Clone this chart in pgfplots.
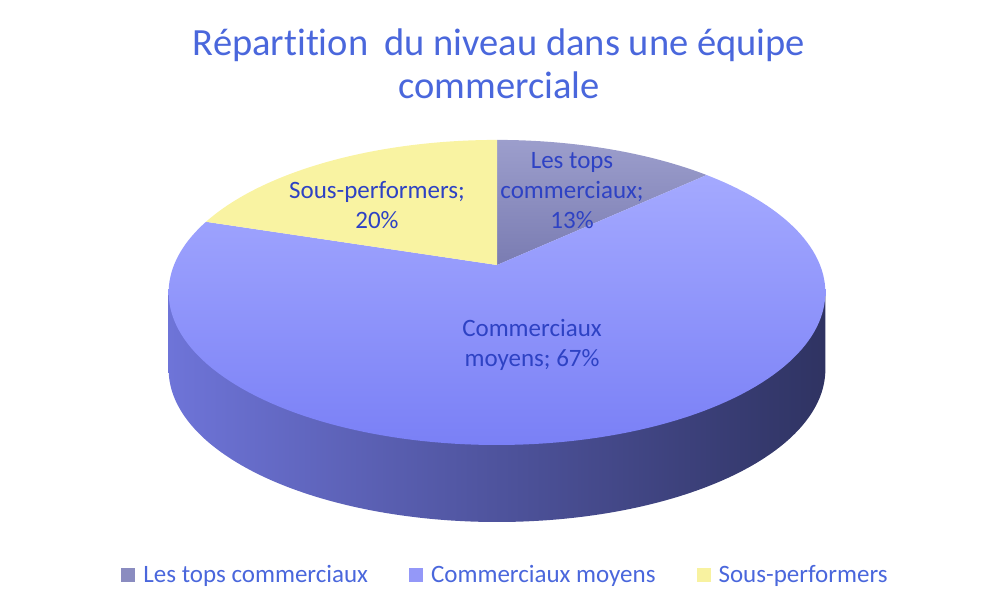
\documentclass[border=0pt]{standalone}
\usepackage{fontspec}
\setmainfont{Carlito}[Ligatures=NoCommon]
\usepackage{pgfplots}
\usepackage{pgfplotstable}
\pgfplotsset{compat=1.18}
\definecolor{titlec}{HTML}{4A67DC}
\definecolor{lblc}{HTML}{2E42C4}
\definecolor{topsT}{HTML}{9C9ECC}
\definecolor{topsB}{HTML}{7A7CB2}
\definecolor{moyT}{HTML}{A4A9FF}
\definecolor{moyB}{HTML}{7A80F6}
\definecolor{sousc}{HTML}{F9F3A2}
\definecolor{sideL}{HTML}{6E74D8}
\definecolor{sideR}{HTML}{2F3362}
\definecolor{legA}{HTML}{8A8CC0}
\definecolor{legB}{HTML}{9498F8}
\definecolor{legC}{HTML}{F8F2A0}
\pgfplotstableread{
label share
tops 13
moyens 67
sous 20
}\piedata
\begin{document}%
\pgfplotstablegetelem{0}{share}\of\piedata\let\vA\pgfplotsretval%
\pgfplotstablegetelem{1}{share}\of\piedata\let\vB\pgfplotsretval%
\pgfmathsetmacro\aA{3.6*\vA}%
\pgfmathsetmacro\aB{3.6*(\vA+\vB)}%
\begin{tikzpicture}
\begin{axis}[
  width=995pt, height=610pt, scale only axis,
  xmin=0, xmax=995, ymin=0, ymax=610, y dir=reverse,
  hide axis, clip=false,
  declare function={
    px(\t)=497+323*sin(\t)/(1+0.18*cos(\t));
    py(\t)=265-147.6*cos(\t)/(1+0.18*cos(\t));
  },
  samples=150,
  legend columns=3,
  legend image code/.code={\fill[#1] (0pt,-7pt) rectangle (14pt,7pt);},
  legend style={at={(axis cs:506,575)}, anchor=center, draw=none, fill=none,
    font=\fontsize{25}{30}\selectfont, text=titlec,
    nodes={inner sep=3pt},
    /tikz/every odd column/.append style={column sep=5pt},
    /tikz/every even column/.append style={column sep=38pt}},
]
\path (rel axis cs:0,0) rectangle (rel axis cs:1,1);
% side of the pie (front of the middle slice)
\addplot[draw=none, left color=sideL, right color=sideR, domain=100.37:259.63, variable=\t, forget plot]
  ({px(\t)},{py(\t)+77}) -- (axis cs:168.6,292.46) -- (axis cs:825.4,292.46) -- cycle;
% top faces
\addplot[draw=none, top color=topsT, bottom color=topsB, domain=0:\aA, variable=\t, forget plot]
  ({px(\t)},{py(\t)}) -- (axis cs:497,265) -- cycle;
\addplot[draw=none, top color=moyT, bottom color=moyB, domain=\aA:\aB, variable=\t, forget plot]
  ({px(\t)},{py(\t)}) -- (axis cs:497,265) -- cycle;
\addplot[draw=none, fill=sousc, domain=\aB:360, variable=\t, forget plot]
  ({px(\t)},{py(\t)}) -- (axis cs:497,265) -- cycle;
% legend
\addlegendimage{fill=legA, draw=none}
\addlegendentry{Les tops commerciaux}
\addlegendimage{fill=legB, draw=none}
\addlegendentry{Commerciaux moyens}
\addlegendimage{fill=legC, draw=none}
\addlegendentry{Sous-performers}
% labels
\node[align=center, text=lblc, font=\fontsize{25}{30}\selectfont] at (axis cs:572,191) {Les tops\\commerciaux;\\13\%};
\node[align=center, text=lblc, font=\fontsize{25}{30}\selectfont] at (axis cs:377,205) {Sous-performers;\\20\%};
\node[align=center, text=lblc, font=\fontsize{25}{30}\selectfont] at (axis cs:532,345) {Commerciaux\\moyens; 67\%};
% title
\node[align=center, text=titlec, font=\fontsize{38.5}{43}\selectfont] at (axis cs:499,64) {Répartition\hspace{0.2em} du niveau dans une équipe\\commerciale};
\end{axis}
\end{tikzpicture}%
\end{document}
